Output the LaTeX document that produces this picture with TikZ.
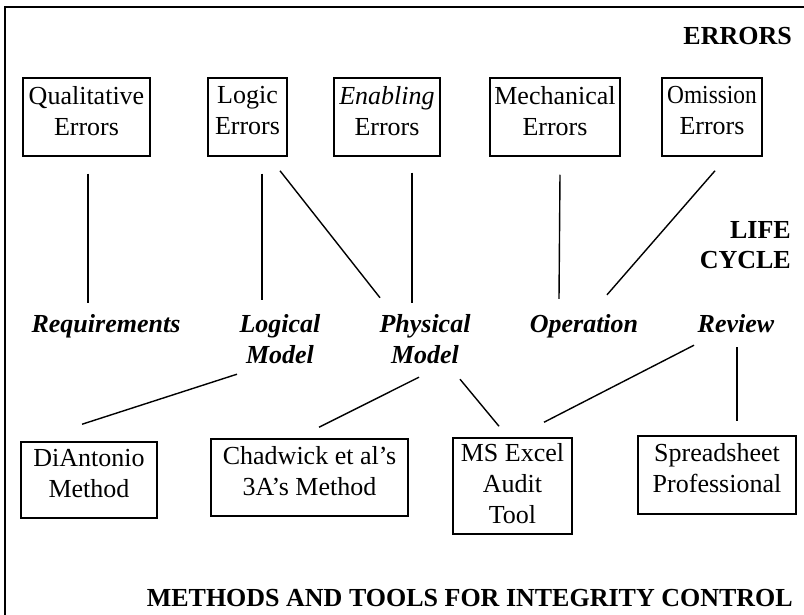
\documentclass[tikz,border=0pt]{standalone}
\usepackage{fontspec}
\setmainfont{Liberation Serif}
\usetikzlibrary{calc}
\begin{document}
\begin{tikzpicture}[x=1pt,y=-1pt,
  box/.style={draw, line width=1.5pt, inner sep=0pt, align=center,
    font=\fontsize{26}{31}\selectfont},
  stage/.style={inner sep=0pt, align=center,
    font=\fontsize{26}{31}\selectfont\bfseries\itshape, text depth=6pt, anchor=base},
  heading/.style={inner sep=0pt, align=right,
    font=\fontsize{26}{31}\selectfont\bfseries, anchor=base east},
  link/.style={line width=1.4pt},
  frame/.style={line width=1.5pt}]
\useasboundingbox (0,0) rectangle (804,615);
% frame
\draw[frame] (5,615) -- (5,7) -- (804,7);
% headings
\node[heading] (errors) at (792,45) {ERRORS};
\node[heading] (life) at (791,269) {LIFE\\CYCLE};
\node[heading] (methods) at (793,606) {METHODS AND TOOLS FOR INTEGRITY CONTROL};
% error boxes
\node[box, minimum width=127pt, minimum height=78pt, text depth=13pt] (qual) at (86.5,117) {Qualitative\\Errors};
\node[box, minimum width=79pt, minimum height=78pt, text depth=13pt] (logic) at (247.5,117) {Logic\\Errors};
\node[box, minimum width=106pt, minimum height=78pt, text depth=13pt] (enab) at (387,117) {\textit{Enabling}\\Errors};
\node[box, minimum width=130pt, minimum height=78pt, text depth=13pt] (mech) at (555,117) {Mechanical\\Errors};
\node[box, minimum width=100pt, minimum height=78pt, text depth=13pt] (omis) at (712,117) {\scalebox{0.9}[1]{Omission}\\Errors};
% life cycle stages
\node[stage, text height=18pt] (req) at (106,332) {Requirements};
\node[stage] (logical) at (280,363) {Logical\\Model};
\node[stage] (physical) at (425,363) {Physical\\Model};
\node[stage, text height=18pt] (oper) at (584,332) {Operation};
\node[stage, text height=18pt] (review) at (736,332) {Review};
% methods and tools
\node[box, minimum width=136pt, minimum height=76pt, text depth=13pt] (diant) at (89,480) {DiAntonio\\Method};
\node[box, minimum width=197pt, minimum height=77pt, text depth=14pt] (chad) at (309.5,477.5) {Chadwick et al’s\\3A’s Method};
\node[box, minimum width=119pt, minimum height=96pt, text depth=6pt] (msx) at (512.5,486) {MS Excel\\Audit\\Tool};
\node[box, minimum width=158pt, minimum height=78pt, text depth=15pt] (spread) at (717,475) {Spreadsheet\\Professional};
% connectors: errors -> life cycle
\draw[link] ($(qual.south)+(1.5,17)$) -- ($(req.north)+(-18,-11)$);
\draw[link] ($(logic.south)+(14.5,17)$) -- ($(logical.north)+(-18,-14)$);
\draw[link] ($(logic.south)+(32.5,14)$) -- ($(physical.north)+(-45,-16)$);
\draw[link] ($(enab.south)+(25,16)$) -- ($(physical.north)+(-13,-11)$);
\draw[link] ($(mech.south)+(5,18)$) -- ($(oper.north)+(-25,-15)$);
\draw[link] ($(omis.south)+(3,14)$) -- ($(oper.north)+(23,-19)$);
% connectors: life cycle -> methods and tools
\draw[link] ($(logical.south)+(-43,5)$) -- ($(diant.north)+(-7,-17)$);
\draw[link] ($(physical.south)+(-6,8)$) -- ($(chad.north)+(9.5,-11)$);
\draw[link] ($(physical.south)+(35,10)$) -- ($(msx.north)+(-13.5,-11)$);
\draw[link] ($(review.south)+(-42,7)$) -- ($(msx.north)+(31.5,-15)$);
\draw[link] ($(review.south)+(1,9)$) -- ($(spread.north)+(20,-14)$);
\end{tikzpicture}
\end{document}
